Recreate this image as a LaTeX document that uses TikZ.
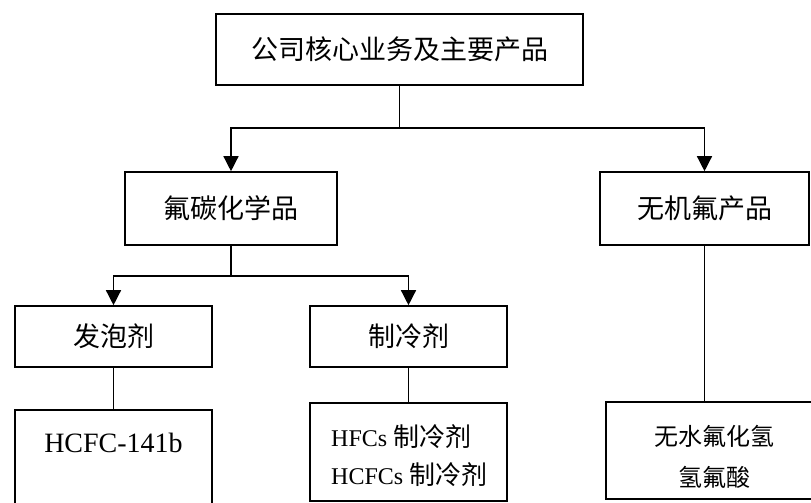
\documentclass[tikz,border=0pt]{standalone}
\usepackage{fontspec}
\setmainfont{Liberation Serif}
\newfontfamily\cjk{Noto Sans CJK SC}
\usetikzlibrary{arrows.meta}
\begin{document}
\begin{tikzpicture}[x=1pt,y=-1pt,
  box/.style={draw, line width=1.6pt, inner sep=0pt, anchor=center},
  txt/.style={inner sep=0pt},
  conn/.style={line width=1.4pt},
  arr/.style={line width=1.4pt, -{Triangle[length=15pt,width=15pt]}},
  big/.style={font=\fontsize{27}{32}\selectfont\cjk}
]
\useasboundingbox (0,0) rectangle (811,503);
% level 1
\node[box, big, minimum width=367pt, minimum height=71pt] (top) at (399.5,49.5) {公司核心业务及主要产品};
% level 2
\node[box, big, minimum width=212pt, minimum height=73pt] (fc) at (231,208.5) {氟碳化学品};
\node[box, big, minimum width=209pt, minimum height=73pt] (wj) at (704.5,208.5) {无机氟产品};
% level 3
\node[box, big, minimum width=197pt, minimum height=61pt] (fp) at (113.5,336.5) {发泡剂};
\node[box, big, minimum width=197pt, minimum height=61pt] (zl) at (408.5,336.5) {制冷剂};
% level 4
\node[box, minimum width=197pt, minimum height=130pt] (hc) at (113.5,475) {};
\node[txt, font=\fontsize{28}{32}\selectfont] (hct) at (113.5,443) {HCFC-141b};
\node[box, minimum width=197pt, minimum height=98pt] (hf) at (408.5,452) {};
\node[txt, anchor=west] (hf1) at (331,437) {\fontsize{24}{28}\selectfont HFCs {\cjk\fontsize{26}{28}\selectfont 制冷剂}};
\node[txt, anchor=west] (hf2) at (331,475) {\fontsize{24}{28}\selectfont HCFCs {\cjk\fontsize{26}{28}\selectfont 制冷剂}};
\node[box, minimum width=216pt, minimum height=97pt] (wf) at (714,450.5) {};
\node[txt, font=\fontsize{24}{28}\selectfont\cjk] (wf1) at (714,436) {无水氟化氢};
\node[txt, font=\fontsize{24}{28}\selectfont\cjk] (wf2) at (714,477) {氢氟酸};
% connectors
\coordinate (j1) at (399.5,128);
\coordinate (j2) at (231,276);
\draw[conn] (top.south) -- (j1);
\draw[arr] (j1) -| (fc.north);
\draw[arr] (j1) -| (wj.north);
\draw[conn] (fc.south) -- (j2);
\draw[arr] (j2) -| (fp.north);
\draw[arr] (j2) -| (zl.north);
\draw[conn] (fp.south) -- (hc.north);
\draw[conn] (zl.south) -- (hf.north);
\draw[conn] (wj.south) -- (wj.south |- wf.north);
\end{tikzpicture}
\end{document}
